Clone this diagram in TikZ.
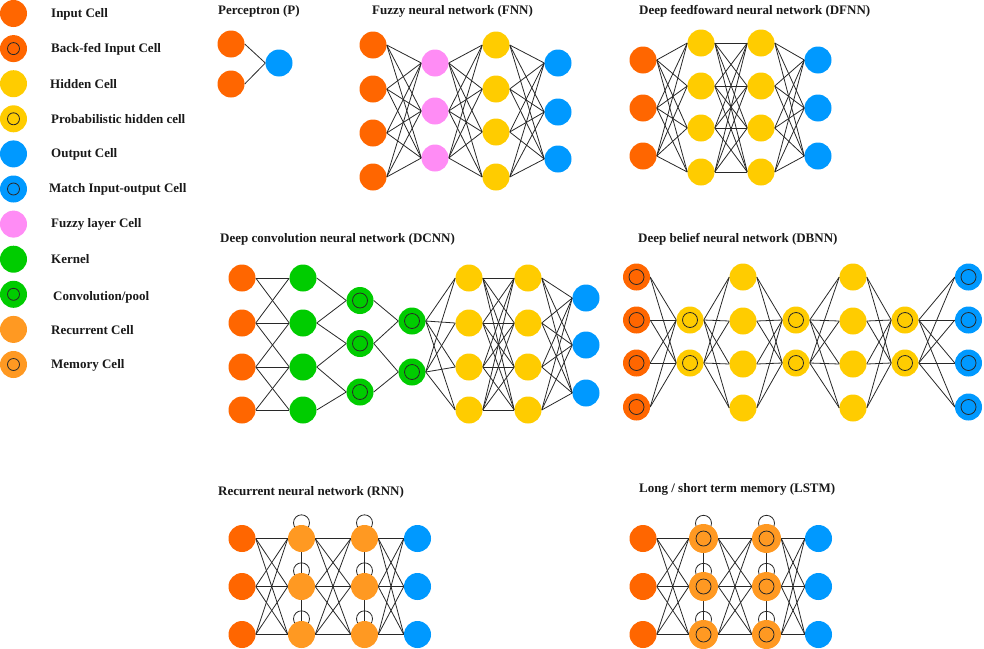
\documentclass[tikz,border=0pt]{standalone}
\usepackage{fontspec}
\setmainfont{Liberation Serif}
\usetikzlibrary{backgrounds}
\definecolor{cin}{RGB}{255,102,0}
\definecolor{chid}{RGB}{255,204,0}
\definecolor{cout}{RGB}{0,153,255}
\definecolor{cfuz}{RGB}{255,140,245}
\definecolor{cker}{RGB}{0,204,0}
\definecolor{crec}{RGB}{255,153,34}
\definecolor{cline}{RGB}{40,40,40}
\tikzset{
  cell/.style={circle, minimum size=27pt, inner sep=0pt, draw=none},
  ring/.style={path picture={\draw[cline, line width=0.8pt] (path picture bounding box.center) circle (#1);}},
  ring/.default=7.5pt,
  inc/.style={cell, fill=cin},
  bfc/.style={cell, fill=cin, ring},
  hid/.style={cell, fill=chid},
  prb/.style={cell, fill=chid, ring},
  outc/.style={cell, fill=cout},
  mio/.style={cell, fill=cout, ring},
  fuz/.style={cell, fill=cfuz},
  ker/.style={cell, fill=cker},
  cnv/.style={cell, fill=cker, ring},
  rec/.style={cell, fill=crec},
  mem/.style={cell, fill=crec, ring, minimum size=29pt},
  txt/.style={anchor=west, inner sep=0pt, font=\fontsize{13}{15}\selectfont\bfseries, text=black!90},
  link/.style={draw=cline, line width=0.8pt},
  selfloop/.style={draw=cline, line width=0.8pt},
}
\begin{document}
\begin{tikzpicture}[x=1pt,y=-1pt]
\useasboundingbox (0,0) rectangle (984,648);

% ---------------- Legend ----------------
\node[inc] (lg1) at (13.5,13.5) {};
\node[bfc, ring=6pt] (lg2) at (13.5,48.6) {};
\node[hid] (lg3) at (13.5,83.7) {};
\node[prb, ring=6pt] (lg4) at (13.5,118.8) {};
\node[outc] (lg5) at (13.5,153.9) {};
\node[mio, ring=6pt] (lg6) at (13.5,189) {};
\node[fuz] (lg7) at (13.5,224.1) {};
\node[ker] (lg8) at (13.5,259.2) {};
\node[cnv, ring=6pt] (lg9) at (13.5,294.3) {};
\node[rec] (lg10) at (13.5,329.4) {};
\node[mem, ring=6pt, minimum size=27pt] (lg11) at (13.5,364.5) {};
\node[txt] (lt1) at (51,14) {Input Cell};
\node[txt] (lt2) at (51,49) {Back-fed Input Cell};
\node[txt] (lt3) at (50,84) {Hidden Cell};
\node[txt] (lt4) at (51,119) {Probabilistic hidden cell};
\node[txt] (lt5) at (51,154) {Output Cell};
\node[txt] (lt6) at (49,189) {Match Input-output Cell};
\node[txt] (lt7) at (51,224) {Fuzzy layer Cell};
\node[txt] (lt8) at (51,259) {Kernel};
\node[txt] (lt9) at (53,297) {Convolution/pool};
\node[txt] (lt10) at (51,330) {Recurrent Cell};
\node[txt] (lt11) at (51,365) {Memory Cell};

% ---------------- Perceptron ----------------
\node[txt] (tp) at (218,11) {Perceptron (P)};
\node[inc] (pi1) at (231,44) {};
\node[inc] (pi2) at (231,84) {};
\node[outc] (po) at (279,63) {};

% ---------------- FNN ----------------
\node[txt] (tf) at (372,11) {Fuzzy neural network (FNN)};
\foreach \y [count=\k] in {45,89,133,177} \node[inc] (fi\k) at (373,\y) {};
\foreach \y [count=\k] in {63,111,158} \node[fuz] (fz\k) at (435,\y) {};
\foreach \y [count=\k] in {45,89,132,177} \node[hid] (fh\k) at (496,\y) {};
\foreach \y [count=\k] in {63,112,159} \node[outc] (fo\k) at (558,\y) {};

% ---------------- DFNN ----------------
\node[txt] (td) at (639,11) {Deep feedfoward neural network (DFNN)};
\foreach \y [count=\k] in {60,108,156} \node[inc] (di\k) at (643,\y) {};
\foreach \y [count=\k] in {43,86,128,172} \node[hid] (da\k) at (701,\y) {};
\foreach \y [count=\k] in {43,86,128,172} \node[hid] (db\k) at (761,\y) {};
\foreach \y [count=\k] in {60,108,156} \node[outc] (do\k) at (818,\y) {};

% ---------------- DCNN ----------------
\node[txt] (tc) at (220,239) {Deep convolution neural network (DCNN)};
\foreach \y [count=\k] in {278,323,367,410} \node[inc] (ci\k) at (242,\y) {};
\foreach \y [count=\k] in {278,323,367,410} \node[ker] (ck\k) at (303,\y) {};
\foreach \y [count=\k] in {300.5,343.5,392} \node[cnv] (ca\k) at (360,\y) {};
\foreach \y [count=\k] in {321,372} \node[cnv] (cb\k) at (412,\y) {};
\foreach \y [count=\k] in {278,323,367,410} \node[hid] (ch\k) at (469,\y) {};
\foreach \y [count=\k] in {278,323,367,410} \node[hid] (cg\k) at (528,\y) {};
\foreach \y [count=\k] in {298,345,393} \node[outc] (co\k) at (586,\y) {};

% ---------------- DBNN ----------------
\node[txt] (tb) at (638,239) {Deep belief neural network (DBNN)};
\foreach \y [count=\k] in {277,320,363,407} \node[bfc] (bi\k) at (636.5,\y) {};
\foreach \y [count=\k] in {320,363} \node[prb] (bp\k) at (690,\y) {};
\foreach \y [count=\k] in {277,321,364,408} \node[hid] (bh\k) at (743,\y) {};
\foreach \y [count=\k] in {320,363} \node[prb] (bq\k) at (796,\y) {};
\foreach \y [count=\k] in {277,321,364,408} \node[hid] (bk\k) at (853,\y) {};
\foreach \y [count=\k] in {320,363} \node[prb] (br\k) at (905,\y) {};
\foreach \y [count=\k] in {277,320,363,407} \node[mio] (bo\k) at (968.5,\y) {};

% ---------------- RNN ----------------
\node[txt] (tr) at (218,492) {Recurrent neural network (RNN)};
\foreach \y [count=\k] in {538.5,586.5,634.5} {
  \node[inc] (ri\k) at (242,\y) {};
  \node[rec] (ra\k) at (301.5,\y) {};
  \node[rec] (rb\k) at (364.5,\y) {};
  \node[outc] (ro\k) at (417.5,\y) {};
}

% ---------------- LSTM ----------------
\node[txt] (tl) at (639,489) {Long / short term memory (LSTM)};
\foreach \y [count=\k] in {538.5,586.5,634.5} {
  \node[inc] (li\k) at (643,\y) {};
  \node[mem] (la\k) at (703.5,\y) {};
  \node[mem] (lb\k) at (766.5,\y) {};
  \node[outc] (lo\k) at (818.5,\y) {};
}

% ---------------- connectors ----------------
\begin{pgfonlayer}{background}
% Perceptron
\draw[link] (pi1.east) -- (po.west);
\draw[link] (pi2.east) -- (po.west);
% FNN
\foreach \i in {1,...,4}{\foreach \j in {1,...,3}{\draw[link] (fi\i.east) -- (fz\j.west);}}
\foreach \i in {1,...,3}{\foreach \j in {1,...,4}{\draw[link] (fz\i.east) -- (fh\j.west);}}
\foreach \i in {1,...,4}{\foreach \j in {1,...,3}{\draw[link] (fh\i.east) -- (fo\j.west);}}
% DFNN
\foreach \i in {1,...,3}{\foreach \j in {1,...,4}{\draw[link] (di\i.east) -- (da\j.west);}}
\foreach \i in {1,...,4}{\foreach \j in {1,...,4}{\draw[link] (da\i.east) -- (db\j.west);}}
\foreach \i in {1,...,4}{\foreach \j in {1,...,3}{\draw[link] (db\i.east) -- (do\j.west);}}
% DCNN
\foreach \i/\j in {1/1,1/2,2/1,2/2,2/3,3/2,3/3,3/4,4/3,4/4}{\draw[link] (ci\i.east) -- (ck\j.west);}
\foreach \i/\j in {1/1,2/1,2/2,3/2,3/3,4/3}{\draw[link] (ck\i.east) -- (ca\j.west);}
\foreach \i/\j in {1/1,2/1,2/2,3/2}{\draw[link] (ca\i.east) -- (cb\j.west);}
\foreach \i in {1,2}{\foreach \j in {1,...,4}{\draw[link] (cb\i.east) -- (ch\j.west);}}
\foreach \i in {1,...,4}{\foreach \j in {1,...,4}{\draw[link] (ch\i.east) -- (cg\j.west);}}
\foreach \i in {1,...,4}{\foreach \j in {1,...,3}{\draw[link] (cg\i.east) -- (co\j.west);}}
% DBNN
\foreach \i in {1,...,4}{\foreach \j in {1,2}{
  \draw[link] (bi\i.east) -- (bp\j.west);
  \draw[link] (bp\j.east) -- (bh\i.west);
  \draw[link] (bh\i.east) -- (bq\j.west);
  \draw[link] (bq\j.east) -- (bk\i.west);
  \draw[link] (bk\i.east) -- (br\j.west);
  \draw[link] (br\j.east) -- (bo\i.west);
}}
% RNN
\foreach \i in {1,...,3}{\foreach \j in {1,...,3}{
  \draw[link] (ri\i.east) -- (ra\j.west);
  \draw[link] (ra\i.east) -- (rb\j.west);
  \draw[link] (rb\i.east) -- (ro\j.west);
}}
\draw[link] (ra1.south) -- (ra2.north) (ra2.south) -- (ra3.north);
\draw[link] (rb1.south) -- (rb2.north) (rb2.south) -- (rb3.north);
\foreach \n in {ra1,ra2,ra3,rb1,rb2,rb3}{\draw[selfloop] ([yshift=2pt]\n.north) circle (8pt);}
% LSTM
\foreach \i in {1,...,3}{\foreach \j in {1,...,3}{
  \draw[link] (li\i.east) -- (la\j.west);
  \draw[link] (la\i.east) -- (lb\j.west);
  \draw[link] (lb\i.east) -- (lo\j.west);
}}
\draw[link] (la1.south) -- (la2.north) (la2.south) -- (la3.north);
\draw[link] (lb1.south) -- (lb2.north) (lb2.south) -- (lb3.north);
\foreach \n in {la1,la2,la3,lb1,lb2,lb3}{\draw[selfloop] ([yshift=0.5pt]\n.north) circle (8pt);}
\end{pgfonlayer}
\end{tikzpicture}
\end{document}
